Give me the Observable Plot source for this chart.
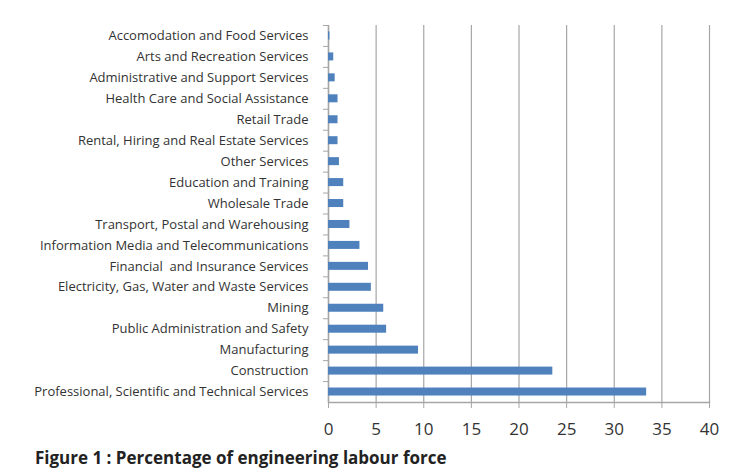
<!DOCTYPE html>
<html>
<head>
<meta charset="utf-8">
<script src="https://cdn.jsdelivr.net/npm/d3@7"></script>
<script src="https://cdn.jsdelivr.net/npm/@observablehq/plot@0.6"></script>
<style>
  body { margin: 0; background: #fff; font-family: "Open Sans", sans-serif; }
  #caption { font-family: "Open Sans", sans-serif; font-weight: bold; font-size: 17px; color: #222; margin: 4px 0 0 35px; }
</style>
</head>
<body>
<div id="chart"></div>
<div id="caption">Figure 1 : Percentage of engineering labour force</div>
<script>
const categories = [
  "Accomodation and Food Services",
  "Arts and Recreation Services",
  "Administrative and Support Services",
  "Health Care and Social Assistance",
  "Retail Trade",
  "Rental, Hiring and Real Estate Services",
  "Other Services",
  "Education and Training",
  "Wholesale Trade",
  "Transport, Postal and Warehousing",
  "Information Media and Telecommunications",
  "Financial  and Insurance Services",
  "Electricity, Gas, Water and Waste Services",
  "Mining",
  "Public Administration and Safety",
  "Manufacturing",
  "Construction",
  "Professional, Scientific and Technical Services"
];
const values = [0.15, 0.55, 0.7, 1.0, 1.0, 1.0, 1.15, 1.6, 1.6, 2.25, 3.3, 4.2, 4.5, 5.8, 6.1, 9.45, 23.55, 33.4];
const xTicks = [0, 5, 10, 15, 20, 25, 30, 35, 40];

const data = categories.map((c, i) => ({category: c, value: values[i]}));

const W = 740, H = 442, mt = 25, mb = 40, ml = 328, mr = 31;
const step = (H - mt - mb) / categories.length;
const inset = (step - 8) / 2;

const chart = Plot.plot({
  width: W,
  height: H,
  marginTop: mt,
  marginBottom: mb,
  marginLeft: ml,
  marginRight: mr,
  style: {fontFamily: "'Open Sans', sans-serif", color: "#333", background: "#fff"},
  x: {domain: [0, 40], ticks: xTicks},
  y: {domain: categories, padding: 0, round: false},
  marks: [
    Plot.gridX(xTicks, {stroke: "#a6a6a6", strokeOpacity: 1, strokeWidth: 1.2}),
    Plot.frame({anchor: "bottom", stroke: "#a6a6a6", strokeWidth: 1.5}),
    Plot.ruleX([0], {stroke: "#a6a6a6", strokeWidth: 1.5}),
    Plot.barX(data, {x: "value", y: "category", fill: "#4f81bd", insetTop: inset, insetBottom: inset}),
    Plot.axisX(xTicks, {tickSize: 6, tickPadding: 14, stroke: "#a6a6a6", fontSize: 17, fill: "#333", label: null, tickFormat: d => d}),
    Plot.axisY({tickSize: 0, tickPadding: 20, fontSize: 13, fill: "#333", label: null}),
    Plot.axisY({tickSize: 5, text: null, dy: -step / 2, stroke: "#a6a6a6", label: null})
  ]
});
document.getElementById("chart").appendChild(chart);
</script>
</body>
</html>
